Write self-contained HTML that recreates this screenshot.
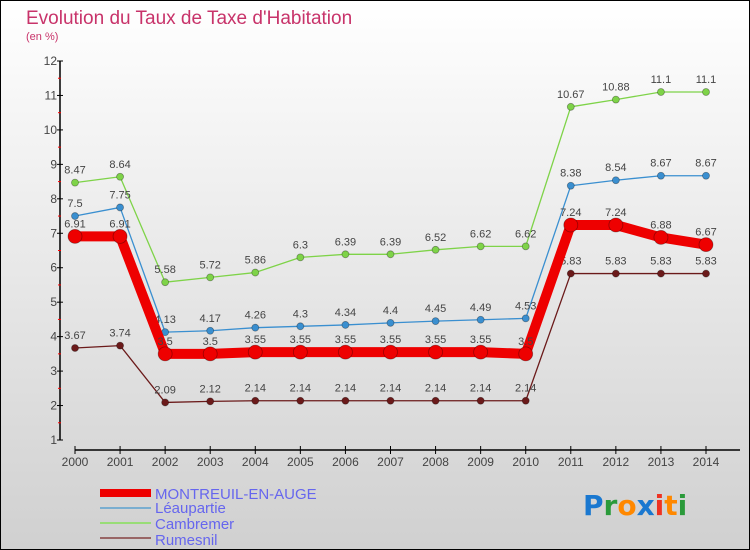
<!DOCTYPE html>
<html><head><meta charset="utf-8"><style>
body{margin:0;width:750px;height:550px;overflow:hidden}
svg{display:block;font-family:"Liberation Sans",sans-serif}
</style></head><body>
<svg width="750" height="550">
<defs><linearGradient id="bg" x1="0" y1="0" x2="0" y2="1"><stop offset="0" stop-color="#ffffff"/><stop offset="1" stop-color="#d0d0d0"/></linearGradient></defs>
<rect x="0.5" y="0.5" width="749" height="549" fill="url(#bg)" stroke="#000"/>
<text x="26" y="24" font-size="19" fill="#c8336a">Evolution du Taux de Taxe d'Habitation</text>
<text x="26" y="40" font-size="11" fill="#c8336a">(en %)</text>
<g id="axes"></g>
<g id="series"></g>
<g>
<rect x="100" y="489" width="51" height="8" fill="#ee0000"/>
<text x="155" y="499" font-size="15" fill="#6666ee">MONTREUIL-EN-AUGE</text>
<rect x="100" y="507" width="51" height="2" fill="#7aaed0"/>
<text x="155" y="513" font-size="15" fill="#6666ee">Léaupartie</text>
<rect x="100" y="522" width="51" height="2" fill="#99dd77"/>
<text x="155" y="529" font-size="15" fill="#6666ee">Cambremer</text>
<rect x="100" y="537" width="51" height="2" fill="#996666"/>
<text x="155" y="545" font-size="15" fill="#6666ee">Rumesnil</text>
</g>
<text x="583" y="515" font-size="28" font-weight="bold" font-family="'DejaVu Sans',sans-serif"><tspan fill="#1a78d0">P</tspan><tspan fill="#2a9a3a">r</tspan><tspan fill="#ff8800">o</tspan><tspan fill="#1a78d0">x</tspan><tspan fill="#ee3322">i</tspan><tspan fill="#ff8800">t</tspan><tspan fill="#2a9a3a">i</tspan></text>
</svg>
<script>
const years=[2000,2001,2002,2003,2004,2005,2006,2007,2008,2009,2010,2011,2012,2013,2014];
const montreuil=[6.91,6.91,3.5,3.5,3.55,3.55,3.55,3.55,3.55,3.55,3.5,7.24,7.24,6.88,6.67];
const leaupartie=[7.5,7.75,4.13,4.17,4.26,4.3,4.34,4.4,4.45,4.49,4.53,8.38,8.54,8.67,8.67];
const cambremer=[8.47,8.64,5.58,5.72,5.86,6.3,6.39,6.39,6.52,6.62,6.62,10.67,10.88,11.1,11.1];
const rumesnil=[3.67,3.74,2.09,2.12,2.14,2.14,2.14,2.14,2.14,2.14,2.14,5.83,5.83,5.83,5.83];
const yTicks=[1,2,3,4,5,6,7,8,9,10,11,12];
const NS="http://www.w3.org/2000/svg";
const x=i=>75+i*(706-75)/(years.length-1);
const y=v=>61+(12-v)*(379/11);
function mk(t,a,p){const e=document.createElementNS(NS,t);for(const k in a)e.setAttribute(k,a[k]);p.appendChild(e);return e;}
const ax=document.getElementById('axes');
let e=mk('line',{x1:60,y1:y(12),x2:60,y2:y(1),stroke:'#000','stroke-width':1.5},ax);


yTicks.forEach(v=>{
 mk('line',{x1:57,y1:y(v),x2:63,y2:y(v),stroke:'#000'},ax);
 if(v<12) mk('line',{x1:58,y1:y(v+0.5),x2:61,y2:y(v+0.5),stroke:'#ff0000'},ax);
 const t=mk('text',{x:57,y:y(v)+4,'font-size':12,'text-anchor':'end',fill:'#444'},ax);t.textContent=v;
 
 
});
e=mk('line',{x1:75,y1:450,x2:740,y2:450,stroke:'#000','stroke-width':1.5},ax);


years.forEach((yr,i)=>{
 mk('line',{x1:x(i),y1:446,x2:x(i),y2:454,stroke:'#000'},ax);
 const t=mk('text',{x:x(i),y:466,'font-size':12,'text-anchor':'middle',fill:'#444'},ax);t.textContent=yr;
 
 
});
const sg=document.getElementById('series');
function draw(vals,color,lw,r,name){
 const g=mk('g',{},sg);
 
 
 const p=mk('polyline',{points:vals.map((v,i)=>x(i)+','+y(v)).join(' '),fill:'none',stroke:color,'stroke-width':lw,'stroke-linejoin':'round'},g);
 
 
 vals.forEach((v,i)=>{
  const c=mk('circle',{cx:x(i),cy:y(v),r:r,fill:color,stroke:'rgba(0,0,0,0.35)','stroke-width':0.8},g);
  
  
  const t=mk('text',{x:x(i),y:y(v)-9,'font-size':11,'text-anchor':'middle',fill:'#444'},g);
  t.textContent=v;
  
  
 });
}
draw(rumesnil,'#6b1a1a',1.3,3.5,'rumesnil');
draw(cambremer,'#7ed348',1.3,3.5,'cambremer');
draw(leaupartie,'#3a8fd0',1.3,3.5,'leaupartie');
draw(montreuil,'#ee0000',10,7,'montreuil');
</script>
</body></html>
